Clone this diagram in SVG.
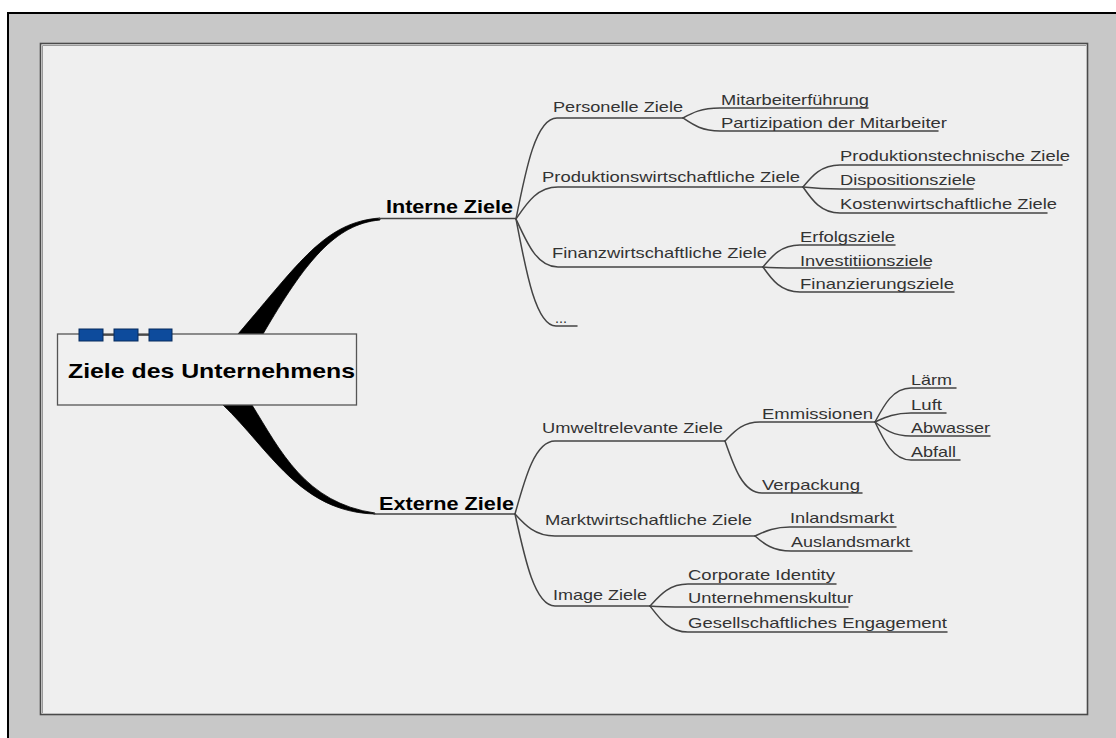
<svg xmlns="http://www.w3.org/2000/svg" width="1116" height="738" viewBox="0 0 1116 738">
  <style>
    .t { font-family: "Liberation Sans", Arial, sans-serif; font-size: 15px; fill: #333; }
    .b { font-family: "Liberation Sans", Arial, sans-serif; font-size: 18px; font-weight: bold; fill: #000; }
    .c { fill: none; stroke: #444; stroke-width: 1.5; stroke-linecap: round; }
    .taper { fill: #000; stroke: #000; stroke-width: 0.8; }
  </style>

  <!-- frame -->
  <rect x="0" y="0" width="1116" height="738" fill="#ffffff"/>
  <rect x="8" y="13" width="1120" height="740" fill="#c8c8c8" stroke="#000" stroke-width="2"/>
  <rect x="40.5" y="43.5" width="1047" height="671" fill="#efefef" stroke="#4a4a4a" stroke-width="1.6"/>
  <path d="M42.5,713 V45.5 H1086" fill="none" stroke="#9a9a9a" stroke-width="1"/>

  <!-- connectors -->
  <g id="connectors">
    <!-- main branches from the central topic -->
    <path class="taper" d="M238,334 C300,262 325,222 380,218 L380,220 C335,224 305,262 263,334 Z"/>
    <path class="taper" d="M223,405 C270,450 300,512 375,514 L375,513 C305,503 280,450 252,405 Z"/>
    <path class="c" d="M379,218.5 H516"/>
    <path class="c" d="M374,514 H515"/>

    <!-- Interne Ziele -->
    <path class="c" d="M516,219 C526,168 536,118 557,118 H683"/>
    <path class="c" d="M516,219 C527,203 537,187 558,187 H803"/>
    <path class="c" d="M516,219 C527,243 537,267 558,267 H763"/>
    <path class="c" d="M516,219 C526,272 536,326 556,326 H577"/>

    <path class="c" d="M683,118 C692,113 701,108 720,108 H868"/>
    <path class="c" d="M683,118 C692,124 701,131 720,131 H938"/>

    <path class="c" d="M803,187 C812,176 821,165 840,165 H1062"/>
    <path class="c" d="M803,187 C812,188 821,189 840,189 H973"/>
    <path class="c" d="M803,187 C812,200 821,213 840,213 H1047"/>

    <path class="c" d="M763,267 C772,256 781,245 800,245 H895"/>
    <path class="c" d="M763,267 C772,268 781,268 800,268 H930"/>
    <path class="c" d="M763,267 C772,280 781,292 800,292 H954"/>

    <!-- Externe Ziele -->
    <path class="c" d="M515,514 C525,478 535,441 555,441 H725"/>
    <path class="c" d="M515,514 C525,525 535,536 555,536 H755"/>
    <path class="c" d="M515,514 C525,560 535,606 555,606 H650"/>

    <path class="c" d="M725,441 C734,432 742,422 760,422 H875"/>
    <path class="c" d="M725,441 C734,467 743,493 762,493 H862"/>

    <path class="c" d="M875,422 C884,405 893,388 911,388 H956"/>
    <path class="c" d="M875,422 C884,418 893,413 911,413 H946"/>
    <path class="c" d="M875,422 C884,429 893,436 911,436 H990"/>
    <path class="c" d="M875,422 C884,441 893,460 911,460 H960"/>

    <path class="c" d="M755,536 C764,532 773,527 790,527 H896"/>
    <path class="c" d="M755,536 C764,544 773,551 791,551 H912"/>

    <path class="c" d="M650,606 C660,595 669,584 688,584 H836"/>
    <path class="c" d="M650,606 C660,607 669,607 688,607 H848"/>
    <path class="c" d="M650,606 C660,619 669,632 688,632 H947"/>
  </g>

  <!-- central topic -->
  <g id="node-root">
    <rect x="57.5" y="334" width="299" height="71" fill="#f0f0f0" stroke="#555" stroke-width="1.3"/>
    <path d="M79,335 H172" stroke="#333" stroke-width="1.3"/>
    <rect x="79" y="329" width="24" height="12" fill="#0d4b9c" stroke="#062a5c" stroke-width="1"/>
    <rect x="114" y="329" width="24" height="12" fill="#0d4b9c" stroke="#062a5c" stroke-width="1"/>
    <rect x="149" y="329" width="23" height="12" fill="#0d4b9c" stroke="#062a5c" stroke-width="1"/>
    <text x="68" y="378" font-family="Liberation Sans, Arial, sans-serif" font-size="21" font-weight="bold" fill="#000" textLength="287" lengthAdjust="spacingAndGlyphs">Ziele des Unternehmens</text>
  </g>

  <g id="node-interne"><text class="b" x="386" y="213" textLength="127" lengthAdjust="spacingAndGlyphs">Interne Ziele</text></g>
  <g id="node-externe"><text class="b" x="379" y="510" textLength="135" lengthAdjust="spacingAndGlyphs">Externe Ziele</text></g>

  <g id="node-personelle"><text class="t" x="553" y="112" textLength="130" lengthAdjust="spacingAndGlyphs">Personelle Ziele</text></g>
  <g id="node-mitarbeiterfuehrung"><text class="t" x="721" y="105" textLength="148" lengthAdjust="spacingAndGlyphs">Mitarbeiterführung</text></g>
  <g id="node-partizipation"><text class="t" x="721" y="128" textLength="226" lengthAdjust="spacingAndGlyphs">Partizipation der Mitarbeiter</text></g>

  <g id="node-produktion"><text class="t" x="542" y="182" textLength="258" lengthAdjust="spacingAndGlyphs">Produktionswirtschaftliche Ziele</text></g>
  <g id="node-prodtech"><text class="t" x="840" y="161" textLength="230" lengthAdjust="spacingAndGlyphs">Produktionstechnische Ziele</text></g>
  <g id="node-disposition"><text class="t" x="840" y="185" textLength="136" lengthAdjust="spacingAndGlyphs">Dispositionsziele</text></g>
  <g id="node-kosten"><text class="t" x="840" y="209" textLength="217" lengthAdjust="spacingAndGlyphs">Kostenwirtschaftliche Ziele</text></g>

  <g id="node-finanz"><text class="t" x="552" y="258" textLength="215" lengthAdjust="spacingAndGlyphs">Finanzwirtschaftliche Ziele</text></g>
  <g id="node-erfolg"><text class="t" x="800" y="242" textLength="95" lengthAdjust="spacingAndGlyphs">Erfolgsziele</text></g>
  <g id="node-investition"><text class="t" x="800" y="266" textLength="133" lengthAdjust="spacingAndGlyphs">Investitiionsziele</text></g>
  <g id="node-finanzierung"><text class="t" x="800" y="289" textLength="154" lengthAdjust="spacingAndGlyphs">Finanzierungsziele</text></g>

  <g id="node-more"><text class="t" x="555" y="323" textLength="12" lengthAdjust="spacingAndGlyphs">...</text></g>

  <g id="node-umwelt"><text class="t" x="542" y="433" textLength="181" lengthAdjust="spacingAndGlyphs">Umweltrelevante Ziele</text></g>
  <g id="node-emmissionen"><text class="t" x="762" y="419" textLength="111" lengthAdjust="spacingAndGlyphs">Emmissionen</text></g>
  <g id="node-laerm"><text class="t" x="911" y="385" textLength="41" lengthAdjust="spacingAndGlyphs">Lärm</text></g>
  <g id="node-luft"><text class="t" x="911" y="410" textLength="31" lengthAdjust="spacingAndGlyphs">Luft</text></g>
  <g id="node-abwasser"><text class="t" x="911" y="433" textLength="79" lengthAdjust="spacingAndGlyphs">Abwasser</text></g>
  <g id="node-abfall"><text class="t" x="911" y="457" textLength="45" lengthAdjust="spacingAndGlyphs">Abfall</text></g>
  <g id="node-verpackung"><text class="t" x="762" y="490" textLength="98" lengthAdjust="spacingAndGlyphs">Verpackung</text></g>

  <g id="node-markt"><text class="t" x="545" y="525" textLength="207" lengthAdjust="spacingAndGlyphs">Marktwirtschaftliche Ziele</text></g>
  <g id="node-inland"><text class="t" x="790" y="523" textLength="104" lengthAdjust="spacingAndGlyphs">Inlandsmarkt</text></g>
  <g id="node-ausland"><text class="t" x="791" y="547" textLength="119" lengthAdjust="spacingAndGlyphs">Auslandsmarkt</text></g>

  <g id="node-image"><text class="t" x="553" y="600" textLength="94" lengthAdjust="spacingAndGlyphs">Image Ziele</text></g>
  <g id="node-corporate"><text class="t" x="688" y="580" textLength="147" lengthAdjust="spacingAndGlyphs">Corporate Identity</text></g>
  <g id="node-kultur"><text class="t" x="688" y="603" textLength="165" lengthAdjust="spacingAndGlyphs">Unternehmenskultur</text></g>
  <g id="node-gesellschaft"><text class="t" x="688" y="628" textLength="259" lengthAdjust="spacingAndGlyphs">Gesellschaftliches Engagement</text></g>
</svg>
